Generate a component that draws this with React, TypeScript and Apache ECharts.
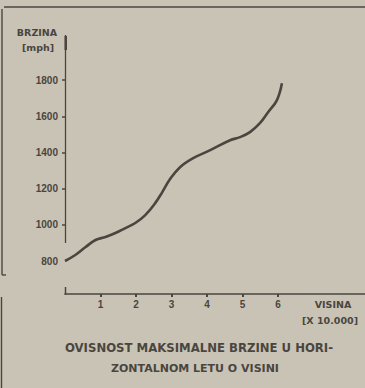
import React, { useEffect, useRef } from "react";
import * as echarts from "echarts";

const altitude = [0, 0.29, 0.58, 0.86, 1.14, 1.42, 1.7, 1.98, 2.26, 2.54, 2.74, 2.96, 3.24, 3.61, 4.09, 4.65, 4.93, 5.21, 5.49, 5.72, 5.97, 6.11];
const speed = [800, 833, 877, 916, 933, 955, 982, 1010, 1054, 1120, 1181, 1253, 1319, 1369, 1413, 1468, 1485, 1513, 1562, 1623, 1690, 1783];
const xTickLabels = [1, 2, 3, 4, 5, 6];
const yTickLabels = [800, 1000, 1200, 1400, 1600, 1800];
const yTickMarks = [1000, 1200, 1400, 1600, 1800];
const yAxisTitle = ["BRZINA", "[mph]"];
const xAxisTitle = ["VISINA", "[X 10.000]"];
const chartTitle = ["OVISNOST MAKSIMALNE BRZINE U HORI-", "ZONTALNOM LETU O VISINI"];

const INK = "#4a463f";
const BG = "#c9c3b5";
const FONT = "'Liberation Sans', Arial, sans-serif";
const WIDE = "'DejaVu Sans', 'Liberation Sans', sans-serif";

export default function App() {
  const ref = useRef<HTMLDivElement>(null);
  useEffect(() => {
    if (!ref.current) return;
    const chart = echarts.init(ref.current, undefined, { renderer: "svg" });
    const txt = (text: string, x: number, y: number, size: number, family = WIDE) => ({
      type: "text",
      x,
      y,
      style: {
        text,
        fill: INK,
        font: `bold ${size}px ${family}`,
        textAlign: "center",
        textVerticalAlign: "middle",
      },
    });
    const ln = (x1: number, y1: number, x2: number, y2: number, w = 1.5) => ({
      type: "line",
      shape: { x1, y1, x2, y2 },
      style: { stroke: INK, lineWidth: w },
    });
    chart.setOption({
      animation: false,
      backgroundColor: BG,
      grid: { left: 65, right: 0, top: 35, bottom: 127 },
      xAxis: {
        type: "value",
        min: 0,
        max: 8.45,
        interval: 1,
        offset: 33,
        splitLine: { show: false },
        axisLine: { show: true, lineStyle: { color: INK, width: 1.5 } },
        axisTick: { show: true, customValues: xTickLabels, length: 3, inside: false, lineStyle: { color: INK, width: 2 } },
        axisLabel: {
          customValues: xTickLabels,
          formatter: (v: number) => String(v),
          color: INK,
          fontSize: 10,
          fontWeight: "bold",
          fontFamily: FONT,
          margin: 5,
        },
      },
      yAxis: {
        type: "value",
        min: 800,
        max: 2050,
        interval: 200,
        splitLine: { show: false },
        axisLine: { show: false },
        axisTick: { show: true, customValues: yTickMarks, length: 3, lineStyle: { color: INK, width: 1.5 } },
        axisLabel: {
          customValues: yTickLabels,
          formatter: (v: number) => String(v),
          color: INK,
          fontSize: 10,
          fontWeight: "bold",
          fontFamily: FONT,
          margin: 7,
        },
      },
      series: [
        {
          type: "line",
          data: altitude.map((a, i) => [a, speed[i]]),
          smooth: 0.4,
          showSymbol: false,
          lineStyle: { color: INK, width: 2.6 },
        },
      ],
      graphic: [
        ln(65.5, 35, 65.5, 243, 1.3),
        { type: "rect", shape: { x: 64.5, y: 36, width: 2.5, height: 14 }, style: { fill: INK } },
        ln(65.5, 287, 65.5, 295, 1.5),
        ln(4, 7, 365, 7, 1.6),
        ln(2, 9, 2, 275, 1.4),
        ln(2, 275, 6, 275, 1.4),
        ln(1.5, 297, 1.5, 388, 1.4),
        txt(yAxisTitle[0], 37, 32, 9.5),
        txt(yAxisTitle[1], 38, 47, 9.5),
        txt(xAxisTitle[0], 333, 304, 9.5),
        txt(xAxisTitle[1], 330, 320, 9.5),
        txt(chartTitle[0], 199, 348, 11.7),
        txt(chartTitle[1], 195, 368, 11),
      ],
    });
    return () => chart.dispose();
  }, []);
  return <div ref={ref} style={{ position: "absolute", left: 0, top: 0, width: 365, height: 388 }} />;
}
